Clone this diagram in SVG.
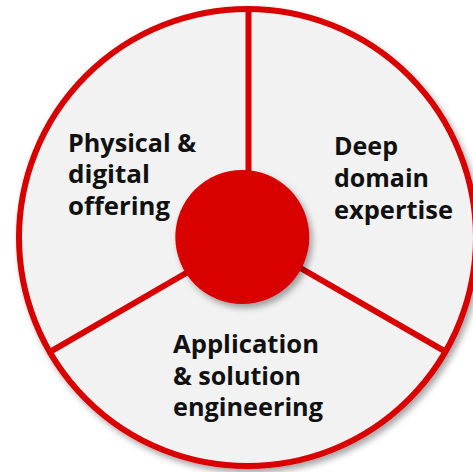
<svg xmlns="http://www.w3.org/2000/svg" width="473" height="472" viewBox="0 0 473 472">
  <style>
    .lbl { font-family: "Open Sans", "Liberation Sans", sans-serif; font-weight: bold; font-size: 25px; fill: #111111; }
    .spoke { stroke: #d90000; stroke-width: 6; stroke-linecap: butt; }
  </style>
  <defs>
    <filter id="shadow" x="-20%" y="-20%" width="150%" height="150%">
      <feDropShadow dx="3" dy="4" stdDeviation="3" flood-color="#000000" flood-opacity="0.35"/>
    </filter>
  </defs>
  <rect width="473" height="472" fill="#ffffff"/>
  <g id="outer">
    <circle cx="247.5" cy="237.5" r="228.5" fill="#f2f2f2" stroke="#d90000" stroke-width="6" filter="url(#shadow)"/>
  </g>
  <g id="connectors">
    <line class="spoke" x1="248.5" y1="237.5" x2="248.5" y2="9"/>
    <line class="spoke" x1="247.5" y1="237.5" x2="50" y2="351.8"/>
    <line class="spoke" x1="247.5" y1="237.5" x2="445.9" y2="351.8"/>
  </g>
  <g id="hub">
    <circle cx="242.3" cy="237" r="67" fill="#d90000" filter="url(#shadow)"/>
  </g>
  <g id="physical">
    <text class="lbl" x="68" y="151.7" textLength="128" lengthAdjust="spacingAndGlyphs">Physical &amp;</text>
    <text class="lbl" x="68" y="183.3" textLength="82" lengthAdjust="spacingAndGlyphs">digital</text>
    <text class="lbl" x="68" y="215" textLength="102" lengthAdjust="spacingAndGlyphs">offering</text>
  </g>
  <g id="deep">
    <text class="lbl" x="334" y="155" textLength="64" lengthAdjust="spacingAndGlyphs">Deep</text>
    <text class="lbl" x="334" y="187" textLength="95" lengthAdjust="spacingAndGlyphs">domain</text>
    <text class="lbl" x="334" y="218.5" textLength="119" lengthAdjust="spacingAndGlyphs">expertise</text>
  </g>
  <g id="application">
    <text class="lbl" x="173" y="353" textLength="146" lengthAdjust="spacingAndGlyphs">Application</text>
    <text class="lbl" x="173" y="384.5" textLength="128" lengthAdjust="spacingAndGlyphs">&amp; solution</text>
    <text class="lbl" x="173" y="416" textLength="150" lengthAdjust="spacingAndGlyphs">engineering</text>
  </g>
</svg>
